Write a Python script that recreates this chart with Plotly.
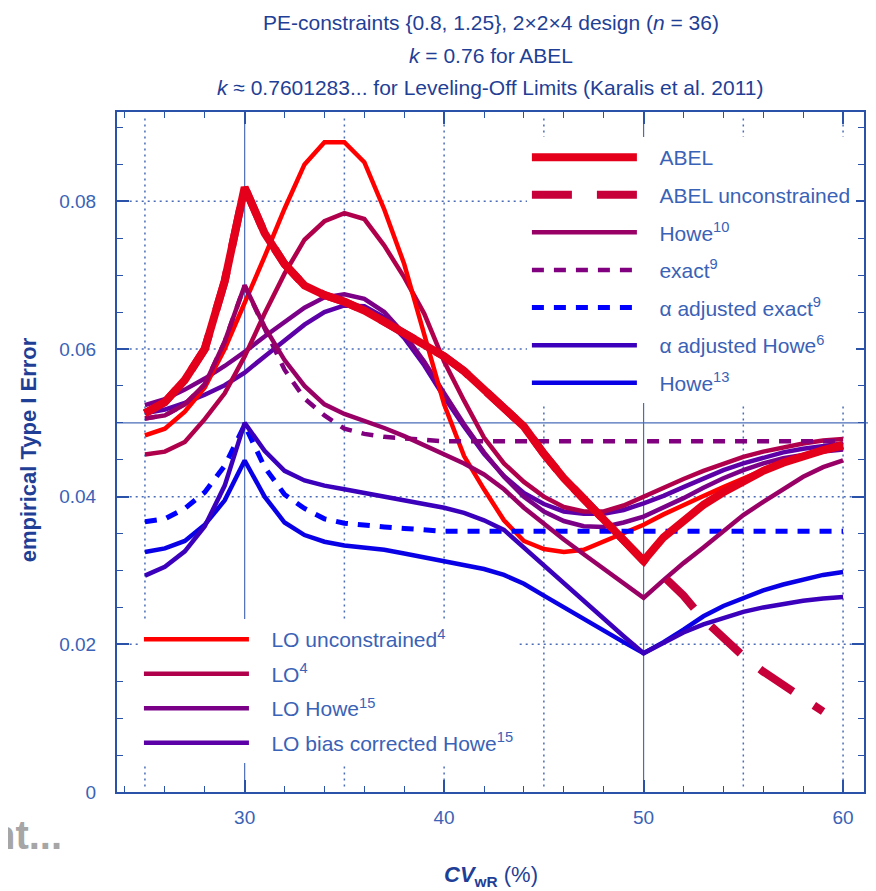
import plotly.graph_objects as go

# ---------------- data ----------------
CV_WR = list(range(25, 61))  # CVwR (%)

ABEL = [0.0513, 0.0528, 0.0558, 0.0600, 0.0692, 0.0819,
        0.0757, 0.0715, 0.0686, 0.0673, 0.0664, 0.0652, 0.0637, 0.0622, 0.0606, 0.0590,
        0.0570, 0.0545, 0.0522, 0.0495, 0.0458, 0.0425, 0.0397, 0.0368, 0.0340, 0.0313,
        0.0345, 0.0368, 0.0389, 0.0406, 0.0421, 0.0435, 0.0446, 0.0455, 0.0463, 0.0470]

ABEL_UNCONSTRAINED = ABEL[:26] + [0.0292, 0.0266, 0.0234, 0.0208, 0.0184,
                                  0.0163, 0.0144, 0.0125, 0.0109, None]

HOWE10 = [0.0506, 0.0510, 0.0525, 0.0552, 0.0610, 0.0686,
          0.0630, 0.0585, 0.0550, 0.0525, 0.0512, 0.0503, 0.0493, 0.0482, 0.0470, 0.0458,
          0.0445, 0.0430, 0.0410, 0.0385, 0.0363, 0.0342, 0.0322, 0.0302, 0.0283, 0.0263,
          0.0287, 0.0310, 0.0331, 0.0353, 0.0375, 0.0393, 0.0410, 0.0427, 0.0440, 0.0449]

EXACT9 = [0.0506, 0.0510, 0.0525, 0.0552, 0.0610, 0.0686,
          0.0628, 0.0572, 0.0533, 0.0510, 0.0492, 0.0485, 0.0481, 0.0479, 0.0477, 0.0475,
          0.0475, 0.0475, 0.0475, 0.0475, 0.0475, 0.0475, 0.0475, 0.0475, 0.0475, 0.0475,
          0.0475, 0.0475, 0.0475, 0.0475, 0.0475, 0.0475, 0.0475, 0.0475, 0.0475, 0.0475]

ALPHA_EXACT9 = [0.0366, 0.0370, 0.0384, 0.0406, 0.0442, 0.0497,
                0.0440, 0.0403, 0.0384, 0.0370, 0.0364, 0.0361, 0.0359, 0.0357, 0.0355, 0.0353,
                0.0353, 0.0353, 0.0353, 0.0353, 0.0353, 0.0353, 0.0353, 0.0353, 0.0353, 0.0353,
                0.0353, 0.0353, 0.0353, 0.0353, 0.0353, 0.0353, 0.0353, 0.0353, 0.0353, 0.0353]

ALPHA_HOWE6 = [0.0293, 0.0305, 0.0326, 0.0360, 0.0415, 0.0500,
               0.0462, 0.0435, 0.0422, 0.0415, 0.0410, 0.0405, 0.0400, 0.0395, 0.0390, 0.0385,
               0.0378, 0.0368, 0.0355, 0.0331, 0.0305, 0.0283, 0.0258, 0.0235, 0.0211, 0.0188,
               0.0202, 0.0216, 0.0227, 0.0236, 0.0244, 0.0250, 0.0255, 0.0259, 0.0262, 0.0264]

HOWE13 = [0.0325, 0.0330, 0.0340, 0.0362, 0.0395, 0.0449,
          0.0400, 0.0365, 0.0348, 0.0339, 0.0334, 0.0331, 0.0328, 0.0323, 0.0318, 0.0313,
          0.0308, 0.0302, 0.0294, 0.0282, 0.0266, 0.0250, 0.0234, 0.0218, 0.0203, 0.0188,
          0.0203, 0.0220, 0.0238, 0.0252, 0.0263, 0.0273, 0.0281, 0.0288, 0.0294, 0.0298]

LO_UNCONSTRAINED4 = [0.0483, 0.0492, 0.0515, 0.0548, 0.0600, 0.0662,
                     0.0725, 0.0790, 0.0850, 0.0880, 0.0880, 0.0853, 0.0789, 0.0715, 0.0620, 0.0525,
                     0.0455, 0.0410, 0.0368, 0.0340, 0.0329, 0.0325, 0.0328, 0.0339, 0.0350, 0.0362,
                     0.0376, 0.0389, 0.0401, 0.0413, 0.0425, 0.0436, 0.0446, 0.0454, 0.0461, 0.0467]

LO4 = [0.0457, 0.0461, 0.0474, 0.0505, 0.0540, 0.0590,
       0.0648, 0.0702, 0.0748, 0.0773, 0.0784, 0.0776, 0.0740, 0.0697, 0.0648, 0.0583,
       0.0530, 0.0480, 0.0445, 0.0420, 0.0400, 0.0386, 0.0380, 0.0380, 0.0388, 0.0400,
       0.0413, 0.0424, 0.0435, 0.0445, 0.0454, 0.0461, 0.0467, 0.0472, 0.0476, 0.0478]

LO_HOWE15 = [0.0524, 0.0532, 0.0545, 0.0560, 0.0577, 0.0596,
             0.0617, 0.0637, 0.0656, 0.0670, 0.0674, 0.0668, 0.0650, 0.0620, 0.0583, 0.0540,
             0.0498, 0.0460, 0.0427, 0.0400, 0.0380, 0.0367, 0.0360, 0.0359, 0.0365, 0.0373,
             0.0385, 0.0398, 0.0412, 0.0425, 0.0436, 0.0445, 0.0452, 0.0457, 0.0461, 0.0464]

LO_BC_HOWE15 = [0.0513, 0.0518, 0.0527, 0.0538, 0.0551, 0.0568,
                0.0590, 0.0612, 0.0633, 0.0650, 0.0659, 0.0658, 0.0643, 0.0615, 0.0578, 0.0535,
                0.0495, 0.0458, 0.0428, 0.0405, 0.0390, 0.0380, 0.0377, 0.0377, 0.0382, 0.0391,
                0.0401, 0.0413, 0.0425, 0.0436, 0.0445, 0.0453, 0.0460, 0.0465, 0.0469, 0.0472]

X_TICK_STEP = 10
Y_TICK_STEP = 0.02
GRID_X_DOTTED = [25, 35, 40, 45, 55, 60]
GRID_Y_DOTTED = [0.02, 0.04, 0.06, 0.08]
REF_X = [30, 50]
REF_Y = [0.05]

# ---------------- styling ----------------
FONT = "Liberation Sans, Arial, sans-serif"
AX = "#2a52a8"
TXT = "#3a62b6"
TITLE_C = "#1f3f96"
GRID_C = "#4a6cb8"
NB = "\u00a0\u00a0\u00a0"

# page offset of the html body (8px) -> figure is drawn 8px right/down
W, H = 868, 883
PL, PT, PR, PB = 109, 104, 10, 99      # plot area = page x 117..866, y 112..792


def px_x(px):  # page pixel -> paper x
    return (px - 117) / 749.0


def px_y(py):  # page pixel -> paper y
    return (792 - py) / 680.0


# drawing order (bottom -> top); legendrank gives legend order
SPECS = [
    (LO_BC_HOWE15, NB + "LO bias corrected Howe<sup>15</sup>", "#5c00a8", 4.5, "solid", "legend2", 4),
    (LO_HOWE15, NB + "LO Howe<sup>15</sup>", "#7a0088", 4.5, "solid", "legend2", 3),
    (LO4, NB + "LO<sup>4</sup>", "#b0004c", 4.5, "solid", "legend2", 2),
    (LO_UNCONSTRAINED4, NB + "LO unconstrained<sup>4</sup>", "#ff0000", 4.5, "solid", "legend2", 1),
    (ALPHA_EXACT9, NB + "\u03b1 adjusted exact<sup>9</sup>", "#0000ff", 5, "12px,10px", "legend", 5),
    (HOWE13, NB + "Howe<sup>13</sup>", "#0a00e6", 4.5, "solid", "legend", 7),
    (ALPHA_HOWE6, NB + "\u03b1 adjusted Howe<sup>6</sup>", "#3a00bb", 4.5, "solid", "legend", 6),
    (EXACT9, NB + "exact<sup>9</sup>", "#800080", 4.5, "12px,10px", "legend", 4),
    (HOWE10, NB + "Howe<sup>10</sup>", "#990066", 4.5, "solid", "legend", 3),
    (ABEL_UNCONSTRAINED, NB + "ABEL unconstrained", "#c8003a", 8, "40px,25px", "legend", 2),
    (ABEL, NB + "ABEL", "#e4001b", 8, "solid", "legend", 1),
]

fig = go.Figure()
for i, (vals, name, color, width, dash, leg, rank) in enumerate(SPECS):
    fig.add_trace(go.Scatter(
        x=CV_WR, y=vals, mode="lines", name=name,
        line=dict(color=color, width=width, dash=dash),
        legend=leg, legendgroup="g%d" % i, legendrank=rank,
        connectgaps=False,
    ))

shapes = []
for gx in GRID_X_DOTTED:
    shapes.append(dict(type="line", xref="x", yref="paper", x0=gx, x1=gx, y0=0.008, y1=0.992,
                       line=dict(color=GRID_C, width=1.5, dash="2px,4px"), layer="below"))
for gy in GRID_Y_DOTTED:
    shapes.append(dict(type="line", xref="paper", yref="y", x0=0.017, x1=0.995, y0=gy, y1=gy,
                       line=dict(color=GRID_C, width=1.5, dash="2px,4px"), layer="below"))
for rx in REF_X:
    shapes.append(dict(type="line", xref="x", yref="paper", x0=rx, x1=rx, y0=0, y1=1,
                       line=dict(color=GRID_C, width=1.2), layer="below"))
for ry in REF_Y:
    shapes.append(dict(type="line", xref="paper", yref="y", x0=0, x1=px_x(876), y0=ry, y1=ry,
                       line=dict(color=GRID_C, width=1.2), layer="below"))

annotations = [
    dict(text="PE-constraints {0.8, 1.25}, 2\u00d72\u00d74 design (<i>n</i> = 36)",
         x=0.5, y=px_y(22), xref="paper", yref="paper", showarrow=False,
         font=dict(size=21, color=TITLE_C, family=FONT), xanchor="center", yanchor="middle"),
    dict(text="<i>k</i> = 0.76 for ABEL",
         x=0.5, y=px_y(55), xref="paper", yref="paper", showarrow=False,
         font=dict(size=21, color=TITLE_C, family=FONT), xanchor="center", yanchor="middle"),
    dict(text="<i>k</i> \u2248 0.7601283... for Leveling-Off Limits (Karalis et al. 2011)",
         x=0.5, y=px_y(88), xref="paper", yref="paper", showarrow=False,
         font=dict(size=21, color=TITLE_C, family=FONT), xanchor="center", yanchor="middle"),
    dict(text="<b>empirical Type I Error</b>", textangle=-90,
         x=px_x(28), y=px_y(450), xref="paper", yref="paper", showarrow=False,
         font=dict(size=22, color=TITLE_C, family=FONT), xanchor="center", yanchor="middle"),
    dict(text="<b><i>CV</i></b><sub><b>wR</b></sub> (%)",
         x=px_x(492), y=px_y(876), xref="paper", yref="paper", showarrow=False,
         font=dict(size=22, color=TITLE_C, family=FONT), xanchor="center", yanchor="middle"),
    dict(text="<b>nt...</b>",
         x=px_x(64), y=px_y(835), xref="paper", yref="paper", showarrow=False,
         font=dict(size=40, color="#a6a6a6", family="Liberation Sans Narrow, Liberation Sans, Arial"),
         xanchor="right", yanchor="middle"),
]

axis_common = dict(
    showline=True, linecolor=AX, linewidth=2, mirror="ticks",
    ticks="inside", ticklen=12, tickwidth=1.5, tickcolor=AX,
    showgrid=False, zeroline=False,
    tickfont=dict(size=19, color=TXT, family=FONT),
)

fig.update_layout(
    width=W, height=H,
    margin=dict(l=PL, r=PR, t=PT, b=PB),
    plot_bgcolor="white", paper_bgcolor="white",
    font=dict(family=FONT, color=TXT),
    xaxis=dict(range=[23.6, 61.05], tick0=0, dtick=X_TICK_STEP,
               minor=dict(dtick=2, tick0=0, ticks="inside", ticklen=6, tickwidth=1.2,
                          tickcolor=AX, showgrid=False),
               ticklabelstandoff=7, **axis_common),
    yaxis=dict(range=[0, 0.0921], tick0=0, dtick=Y_TICK_STEP,
               minor=dict(dtick=0.005, tick0=0, ticks="inside", ticklen=6, tickwidth=1.2,
                          tickcolor=AX, showgrid=False),
               ticklabelstandoff=15, **axis_common),
    legend=dict(x=px_x(528), y=px_y(137), xanchor="left", yanchor="top",
                bgcolor="white", borderwidth=0, itemwidth=105, tracegroupgap=7.3,
                traceorder="grouped", font=dict(size=21, color=TXT, family=FONT)),
    legend2=dict(x=px_x(139), y=px_y(619), xanchor="left", yanchor="top",
                 bgcolor="white", borderwidth=0, itemwidth=105, tracegroupgap=4.2,
                 traceorder="grouped", font=dict(size=21, color=TXT, family=FONT)),
    shapes=shapes,
    annotations=annotations,
    showlegend=True,
)

fig.write_html("out.html")
